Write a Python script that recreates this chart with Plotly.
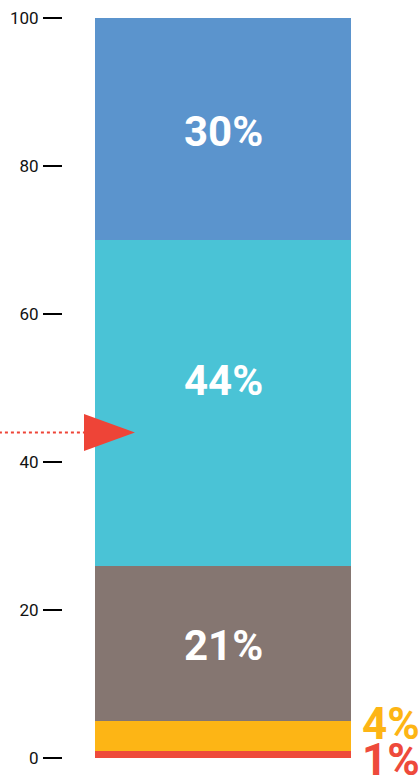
import plotly.graph_objects as go

categories = ["1%", "4%", "21%", "44%", "30%"]
values = [1, 4, 21, 44, 30]
colors = ["#EE4A3B", "#FDB515", "#857671", "#4AC3D6", "#5B94CD"]
label_colors = ["#EE4A3B", "#FDB515", "white", "white", "white"]
tick_vals = [0, 20, 40, 60, 80, 100]
marker_value = 44

fig = go.Figure()
for cat, v, c in zip(categories, values, colors):
    fig.add_trace(go.Bar(x=[0], y=[v], width=1, marker=dict(color=c, line=dict(width=0)),
                         name=cat, showlegend=False, hoverinfo="skip"))

# labels inside bar
label_shift = {"44%": 22}
cum = 0
for cat, v, lc in zip(categories, values, label_colors):
    mid = cum + v / 2
    if v >= 10:
        fig.add_annotation(x=0, y=mid, text=f"<b>{cat}</b>", showarrow=False,
                           yshift=label_shift.get(cat, -2),
                           font=dict(family="Roboto", size=42, color=lc))
    cum += v

# small segment labels to the right
fig.add_annotation(x=0.5, y=values[0] + values[1] / 2, text=f"<b>{categories[1]}</b>",
                   showarrow=False, xanchor="left", xshift=9, yshift=12,
                   font=dict(family="Roboto", size=44, color=label_colors[1]))
fig.add_annotation(x=0.5, y=values[0] / 2, text=f"<b>{categories[0]}</b>",
                   showarrow=False, xanchor="left", xshift=9, yshift=-6,
                   font=dict(family="Roboto", size=44, color=label_colors[0]))

# dotted line and arrow
fig.add_shape(type="line", xref="paper", yref="y", x0=-0.18, x1=0.06,
              y0=marker_value, y1=marker_value,
              line=dict(color="#EE4437", width=2, dash="dot"))
fig.add_shape(type="path", xref="x", yref="y",
              path=f"M -0.543 {marker_value+2.5} L -0.344 {marker_value} L -0.543 {marker_value-2.5} Z",
              fillcolor="#EE4437", line=dict(width=0))

fig.update_layout(
    width=419, height=778,
    margin=dict(l=63, r=0, t=18, b=20),
    plot_bgcolor="white", paper_bgcolor="white",
    barmode="stack", bargap=0,
    xaxis=dict(range=[-0.625, 0.7656], visible=False, fixedrange=True),
    yaxis=dict(range=[0, 100], tickvals=tick_vals, ticks="outside", ticklen=19,
               tickwidth=2, tickcolor="black", showgrid=False, zeroline=False,
               showline=False, ticklabelstandoff=1,
               tickfont=dict(family="Roboto", size=17, color="#111111")),
)
fig.write_html("out.html")
